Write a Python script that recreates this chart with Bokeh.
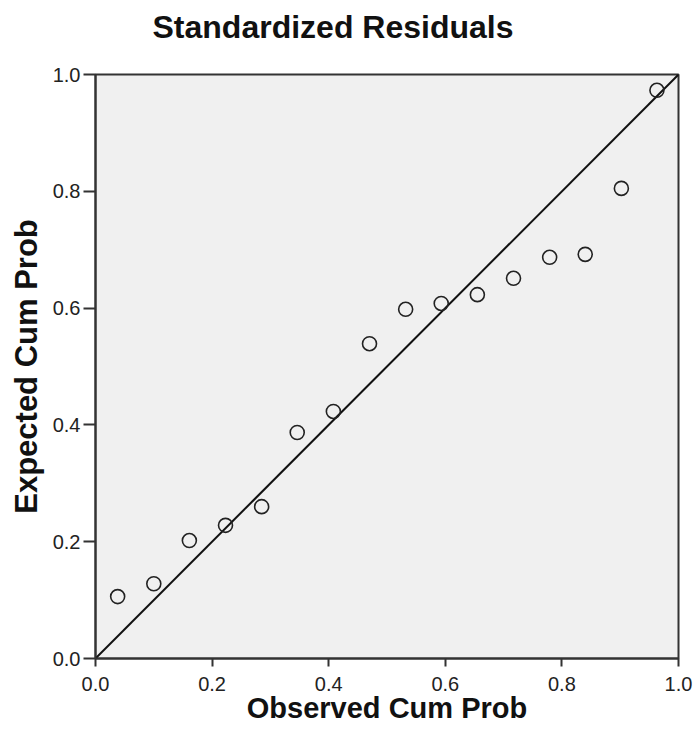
from bokeh.plotting import figure
from bokeh.models import FixedTicker, NumeralTickFormatter, Range1d, Title
from bokeh.embed import file_html
from bokeh.resources import INLINE

# Observed vs expected cumulative probabilities
observed_cum_prob = [0.038, 0.100, 0.161, 0.223, 0.285, 0.346, 0.408, 0.470,
                     0.532, 0.593, 0.655, 0.717, 0.779, 0.840, 0.902, 0.963]
expected_cum_prob = [0.106, 0.128, 0.202, 0.228, 0.260, 0.387, 0.423, 0.539,
                     0.598, 0.608, 0.623, 0.651, 0.687, 0.692, 0.805, 0.973]
reference_line = [0.0, 1.0]
tick_values = [0.0, 0.2, 0.4, 0.6, 0.8, 1.0]
title_text = "Standardized Residuals"

FONT = "Liberation Sans"

p = figure(width=695, height=747, output_backend="svg", toolbar_location=None,
           x_range=Range1d(0, 1), y_range=Range1d(0, 1),
           min_border_left=95, min_border_right=17, min_border_top=74,
           min_border_bottom=89)

p.title.text = title_text
p.title.text_font = FONT
p.title.text_font_size = "32px"
p.title.text_font_style = "bold"
p.title.text_color = "#111111"
p.title.align = "left"
p.title.offset = 57
p.title.vertical_align = "top"
p.title.standoff = 12

# blank spacer between the title and the plot frame
p.add_layout(Title(text=" ", text_font_size="10px", standoff=9), "above")

p.background_fill_color = "#F0F0F0"
p.border_fill_color = "white"
p.outline_line_color = "#333333"
p.outline_line_width = 2
p.grid.visible = False

for ax in (p.xaxis[0], p.yaxis[0]):
    ax.ticker = FixedTicker(ticks=tick_values)
    ax.formatter = NumeralTickFormatter(format="0.0")
    ax.axis_line_color = "#333333"
    ax.axis_line_width = 2
    ax.major_tick_line_color = "#333333"
    ax.major_tick_line_width = 2
    ax.major_tick_in = 0
    ax.minor_tick_line_color = None
    ax.major_label_text_font = FONT
    ax.major_label_text_font_size = "20px"
    ax.major_label_text_color = "#222222"
    ax.axis_label_text_font = FONT
    ax.axis_label_text_font_style = "bold"
    ax.axis_label_text_color = "#111111"

p.xaxis.axis_label_text_font_size = "29px"
p.yaxis.axis_label_text_font_size = "31px"
p.xaxis.major_tick_out = 8
p.yaxis.major_tick_out = 12
p.xaxis.major_label_standoff = 10
p.yaxis.major_label_standoff = 3
p.xaxis.axis_label = "Observed Cum Prob"
p.yaxis.axis_label = "Expected Cum Prob"
p.xaxis.axis_label_standoff = -2
p.yaxis.axis_label_standoff = 6

p.line(reference_line, reference_line, line_color="#111111", line_width=2)
p.scatter(observed_cum_prob, expected_cum_prob, marker="circle", size=14,
          fill_color=None, line_color="#222222", line_width=1.6)

open("out.html", "w").write(file_html(p, INLINE))
